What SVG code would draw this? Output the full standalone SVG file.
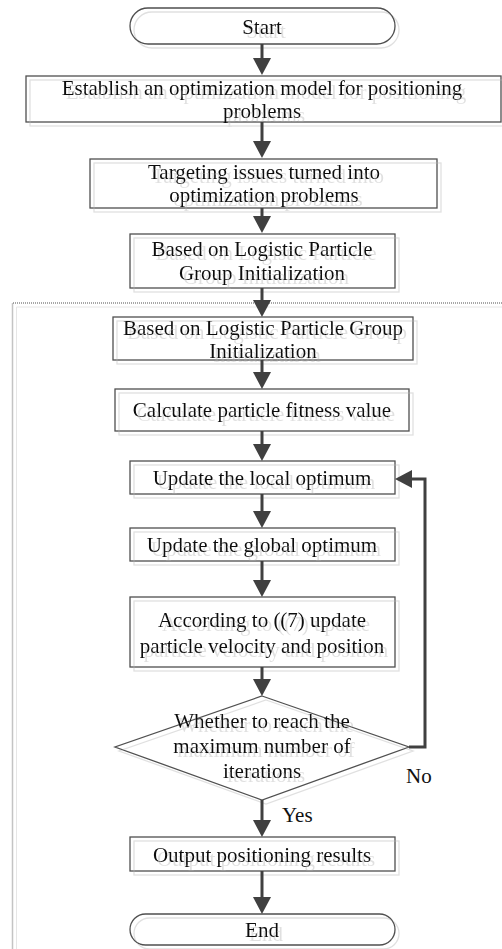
<svg xmlns="http://www.w3.org/2000/svg" width="502" height="949" viewBox="0 0 502 949">
<style>
.box{fill:none;stroke:#505050;stroke-width:1.3}
.t{font-family:"Liberation Serif","Times New Roman",serif;font-size:21px;fill:#111;text-anchor:middle}
.lbl{font-family:"Liberation Serif","Times New Roman",serif;font-size:21px;fill:#111}
.c{fill:none;stroke:#404040;stroke-width:3}
.frame{fill:none;stroke:#8a8a8a;stroke-width:1.5;stroke-dasharray:1 1}
.frame2{fill:none;stroke:#e6e6e6;stroke-width:1}
</style>
<defs>
<filter id="sh" x="-10%" y="-30%" width="120%" height="160%">
<feOffset in="SourceAlpha" dx="4" dy="4" result="o"/>
<feFlood flood-color="#e0e0e0"/>
<feComposite in2="o" operator="in" result="s"/>
<feMerge><feMergeNode in="s"/><feMergeNode in="SourceGraphic"/></feMerge>
</filter>
<marker id="ah" viewBox="0 0 17 18" markerWidth="17" markerHeight="18" refX="0" refY="9" orient="auto" markerUnits="userSpaceOnUse">
<path d="M0,0 L17,9 L0,18 Z" fill="#404040"/>
</marker>
</defs>
<rect width="502" height="949" fill="#fff"/>
<g id="frame">
<path class="frame2" d="M502,307 H16.5 V949"/>
<path class="frame" d="M502,303 H12.5 V949"/>
</g>
<g id="start" filter="url(#sh)">
<rect class="box" x="130" y="8" width="265" height="36" rx="18" ry="18"/>
<text class="t" x="262" y="34">Start</text>
</g>
<g id="n1" filter="url(#sh)">
<rect class="box" x="26" y="76" width="475" height="46"/>
<text class="t" x="262" y="95">Establish an optimization model for positioning</text>
<text class="t" x="262" y="118">problems</text>
</g>
<g id="n2" filter="url(#sh)">
<rect class="box" x="90" y="159" width="347" height="49"/>
<text class="t" x="264" y="179">Targeting issues turned into</text>
<text class="t" x="264" y="202">optimization problems</text>
</g>
<g id="n3" filter="url(#sh)">
<rect class="box" x="130" y="234" width="265" height="54"/>
<text class="t" x="262" y="256">Based on Logistic Particle</text>
<text class="t" x="262" y="280">Group Initialization</text>
</g>
<g id="n4" filter="url(#sh)">
<rect class="box" x="113" y="317" width="300" height="43"/>
<text class="t" x="263" y="335">Based on Logistic Particle Group</text>
<text class="t" x="263" y="358">Initialization</text>
</g>
<g id="n5" filter="url(#sh)">
<rect class="box" x="115" y="389" width="294" height="42"/>
<text class="t" x="262" y="417">Calculate particle fitness value</text>
</g>
<g id="n6" filter="url(#sh)">
<rect class="box" x="130" y="461" width="265" height="33"/>
<text class="t" x="262" y="485">Update the local optimum</text>
</g>
<g id="n7" filter="url(#sh)">
<rect class="box" x="130" y="528" width="265" height="33"/>
<text class="t" x="262" y="552">Update the global optimum</text>
</g>
<g id="n8" filter="url(#sh)">
<rect class="box" x="130" y="597" width="265" height="70"/>
<text class="t" x="262" y="627">According to ((7) update</text>
<text class="t" x="262" y="653">particle velocity and position</text>
</g>
<g id="n9" filter="url(#sh)">
<polygon class="box" points="262,696 409,747 262,800 115,747"/>
<text class="t" x="262" y="728">Whether to reach the</text>
<text class="t" x="262" y="753">maximum number of</text>
<text class="t" x="262" y="778">iterations</text>
</g>
<g id="n10" filter="url(#sh)">
<rect class="box" x="130" y="837" width="265" height="34"/>
<text class="t" x="262" y="862">Output positioning results</text>
</g>
<g id="end" filter="url(#sh)">
<rect class="box" x="130" y="914" width="265" height="31" rx="15.5" ry="15.5"/>
<text class="t" x="262" y="937">End</text>
</g>
<g id="connectors">
<path class="c" d="M262,44 V58" marker-end="url(#ah)"/>
<path class="c" d="M262,122 V141" marker-end="url(#ah)"/>
<path class="c" d="M262,208 V216" marker-end="url(#ah)"/>
<path class="c" d="M262,288 V300" marker-end="url(#ah)"/>
<path class="c" d="M262,360 V372" marker-end="url(#ah)"/>
<path class="c" d="M262,431 V444" marker-end="url(#ah)"/>
<path class="c" d="M262,494 V511" marker-end="url(#ah)"/>
<path class="c" d="M262,561 V580" marker-end="url(#ah)"/>
<path class="c" d="M262,667 V679" marker-end="url(#ah)"/>
<path class="c" d="M262,800 V820" marker-end="url(#ah)"/>
<path class="c" d="M262,871 V897" marker-end="url(#ah)"/>
<path class="c" d="M409,747 H425 V479 H412" marker-end="url(#ah)"/>
<text class="lbl" x="406" y="783">No</text>
<text class="lbl" x="282" y="822">Yes</text>
</g>
</svg>
